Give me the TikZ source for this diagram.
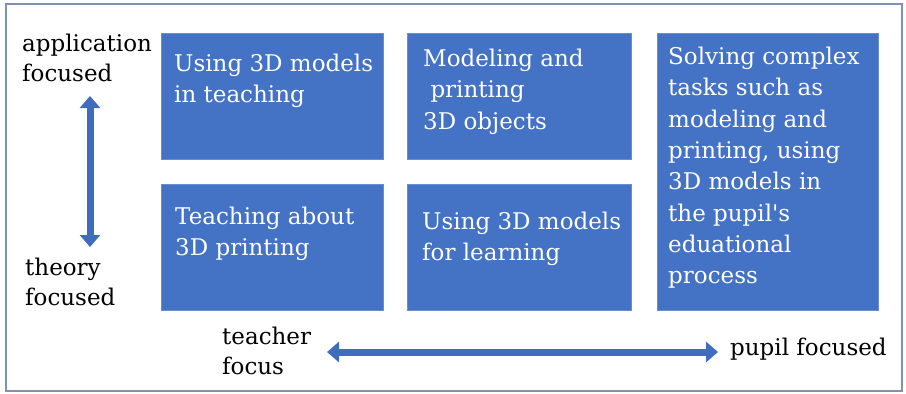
\documentclass[tikz,border=0pt]{standalone}
\usepackage{fontspec}
\setmainfont{DejaVu Serif}
\usetikzlibrary{arrows.meta}
\definecolor{cellblue}{RGB}{68,114,196}
\definecolor{framegray}{RGB}{128,144,182}
\definecolor{arrowblue}{RGB}{64,108,192}
\tikzset{
  cell/.style={fill=cellblue, draw=cellblue!80!white, line width=0.6pt,
    inner sep=0pt, outer sep=0pt, anchor=north west},
  celltext/.style={text=white, align=left, inner sep=0pt, anchor=north west,
    font=\fontsize{23}{31.3}\selectfont},
  axislabel/.style={text=black, align=left, inner sep=0pt, anchor=north west,
    font=\fontsize{23}{29.5}\selectfont},
  bigarrow/.style={draw=arrowblue, line width=7pt,
    {Triangle[length=12pt,width=20pt]}-{Triangle[length=12pt,width=20pt]}}
}
\begin{document}
\begin{tikzpicture}[x=1pt, y=-1pt]
  \useasboundingbox (0,0) rectangle (906,394);
  %% ── Frame ──────────────────────────────────────────────────
  \draw[framegray, line width=1.6pt] (6,4) rectangle (902,391);
  %% ── Blue cells: name / left / top / width / height ─────────
  \foreach \n/\x/\y/\w/\h in {
    c1/161/33/222/126, c2/407/33/224/126,
    c3/161/184/222/126, c4/407/184/224/126,
    c5/657/33/221/277}{
    \node[cell, minimum width=\w pt, minimum height=\h pt] (\n) at (\x,\y) {};
  }
  %% ── Cell texts ─────────────────────────────────────────────
  \node[celltext] (t1) at (174,54) {Using 3D models\\in teaching};
  \node[celltext] (t2) at (423,49) {Modeling and\\\ printing\\3D objects};
  \node[celltext] (t3) at (175,207) {Teaching about\\3D printing};
  \node[celltext] (t4) at (422,212) {Using 3D models\\for learning};
  \node[celltext] (t5) at (668,47) {Solving complex\\tasks such as\\modeling and\\printing, using\\3D models in\\the pupil\textquotesingle s\\eduational\\process};
  %% ── Axis labels ────────────────────────────────────────────
  \node[axislabel] (app)   at (22,34)  {application\\focused};
  \node[axislabel] (theo)  at (25,258) {theory\\focused};
  \node[axislabel] (teach) at (222,327) {teacher\\focus};
  \node[axislabel] (pupil) at (730,338) {pupil focused};
  %% ── Arrows ─────────────────────────────────────────────────
  \coordinate (vtop) at (90,96);
  \coordinate (vbot) at (90,247);
  \coordinate (hleft) at (327,352);
  \coordinate (hright) at (718,352);
  \draw[bigarrow] (vtop) -- (vbot);
  \draw[bigarrow] (hleft) -- (hright);
\end{tikzpicture}
\end{document}
